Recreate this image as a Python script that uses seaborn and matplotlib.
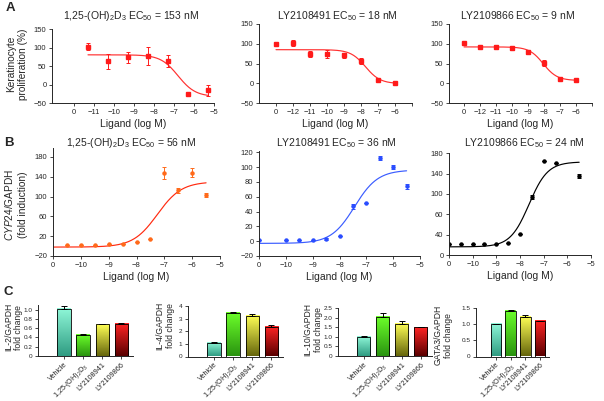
import numpy as np
import seaborn as sns
import matplotlib.pyplot as plt
from matplotlib.colors import LinearSegmentedColormap

sns.set_style("ticks")
plt.rcParams['font.family'] = ['Liberation Sans', 'DejaVu Sans']
plt.rcParams['mathtext.fontset'] = 'custom'
plt.rcParams['mathtext.rm'] = 'Liberation Sans'
plt.rcParams['mathtext.it'] = 'Liberation Sans:italic'
plt.rcParams['mathtext.default'] = 'regular'

# --- A: keratinocyte proliferation (%) vs ligand (log M) ---
# -13 / -12 stand in for the "0" (vehicle) tick
a1_x = [-11.3, -10.3, -9.3, -8.3, -7.3, -6.3, -5.3]
a1_y = [103, 64, 74, 78, 65, -25, -15]
a1_err = [10, 20, 14, 25, 16, 0, 15]

a2_x = [-13, -12, -11, -10, -9, -8, -7, -6]
a2_y = [100, 102, 74, 74, 71, 56, 8, 0]
a2_err = [0, 7, 8, 11, 6, 7, 0, 0]

a3_x = [-13, -12, -11, -10, -9, -8, -7, -6]
a3_y = [101, 92, 93, 89, 79, 52, 11, 8]
a3_err = [0, 3, 3, 4, 6, 8, 2, 0]

# fitted curves: [left plateau, right plateau, logEC50, hill, x start, x end]
a1_fit = [81, -32, -6.8, 1.0, -11.3, -5.3]
a2_fit = [85, -1, -7.74, 1.0, -13, -6]
a3_fit = [92, 7, -8.05, 1.0, -13, -6]

# --- B: CYP24/GAPDH fold induction ---
b1_x = [-10.5, -10, -9.5, -9, -8.5, -8, -7.5, -7, -6.5, -6, -5.5]
b1_y = [2, 3, 3, 4, 4, 8, 14, 148, 113, 148, 103]
b1_err = [0, 0, 0, 0, 0, 0, 0, 12, 5, 9, 4]

b2_x = [-11, -10, -9.5, -9, -8.5, -8, -7.5, -7, -6.5, -6, -5.5]
b2_y = [2, 2, 2, 2, 3, 7, 47, 52, 112, 100, 74]
b2_err = [0, 0, 0, 0, 1, 0, 3, 0, 3, 3, 3]

b3_x = [-11, -10.5, -10, -9.5, -9, -8.5, -8, -7.5, -7, -6.5, -5.5]
b3_y = [1, 1, 1, 1, 1, 3, 22, 94, 164, 161, 135]
b3_err = [0, 0, 0, 0, 0, 0, 0, 3, 0, 0, 4]

b1_fit = [-2, 130, -7.25, 1.0, -11, -5.5]
b2_fit = [-3, 96, -7.44, 1.0, -11, -5.5]
b3_fit = [-4, 163, -7.62, 1.1, -11, -5.5]

# --- C: cytokine / GAPDH fold change ---
groups = ['Vehicle', '1,25-(OH)$_2$D$_3$', 'LY2108941', 'LY2109866']
il2 = [1.02, 0.46, 0.68, 0.70]
il2_err = [0.05, 0.01, 0.01, 0.01]
il4 = [1.05, 3.45, 3.2, 2.3]
il4_err = [0.08, 0.1, 0.2, 0.2]
il10 = [1.02, 2.07, 1.7, 1.5]
il10_err = [0.05, 0.2, 0.12, 0.03]
gata3 = [1.0, 1.43, 1.23, 1.1]
gata3_err = [0.02, 0.02, 0.06, 0.01]

# gradient (top, bottom) per group
grad_colors = [("#8ff7d8", "#2f9c82"), ("#6cff2a", "#2a9410"),
               ("#ffff55", "#66660c"), ("#ff2424", "#5a0000")]

W, H = 604, 401
fig = plt.figure(figsize=(W / 100, H / 100), dpi=100)


def px_axes(x0, y0, x1, y1):
    return fig.add_axes([x0 / W, 1 - y1 / H, (x1 - x0) / W, (y1 - y0) / H])


def style(ax, size=5.5):
    sns.despine(ax=ax)
    for s in ["left", "bottom"]:
        ax.spines[s].set_linewidth(0.7)
    ax.tick_params(length=2.5, width=0.6, labelsize=size, pad=1.5)


def dose_panel(ax, xs, ys, errs, fit, pcolor, lcolor, marker, xlim, ticks, labels,
               ylim, yticks, ylabels):
    left, right, ec, hill, c0, c1 = fit
    cx = np.linspace(c0, c1, 200)
    cy = right + (left - right) / (1 + 10 ** ((cx - ec) * hill))
    sns.lineplot(x=cx, y=cy, ax=ax, color=lcolor, linewidth=0.85)
    ax.errorbar(xs, ys, yerr=errs, fmt=marker, color=pcolor, ms=2.2,
                elinewidth=0.7, capsize=1.5, capthick=0.7)
    ax.set_xlim(*xlim)
    ax.set_xticks(ticks)
    ax.set_xticklabels(labels)
    ax.set_ylim(*ylim)
    ax.set_yticks(yticks)
    ax.set_yticklabels(ylabels)
    ax.set_xlabel("Ligand (log M)", fontsize=7.5, labelpad=2.5)
    style(ax)


def minus(v):
    return "0" if v == 0 else "\u2212" + str(abs(v))


a_ylab = [minus(-50), "0", "50", "100", "150"]
# ---- row A ----
ax = px_axes(52, 29.3, 214, 103.3)
dose_panel(ax, a1_x, a1_y, a1_err, a1_fit, "#ff1a1a", "#ff3030", "s",
           (-13.1, -5), list(range(-12, -4)), ["0"] + [minus(v) for v in range(-11, -4)],
           (-50, 150), [-50, 0, 50, 100, 150], a_ylab)

ax = px_axes(259, 24, 412, 103)
dose_panel(ax, a2_x, a2_y, a2_err, a2_fit, "#ff1a1a", "#ff3030", "s",
           (-14, -5), list(range(-13, -4)),
           ["0"] + [minus(v) for v in range(-12, -5)] + [""],
           (-50, 150), [-50, 0, 50, 100, 150], a_ylab)

ax = px_axes(449, 24, 592, 103)
dose_panel(ax, a3_x, a3_y, a3_err, a3_fit, "#ff1a1a", "#ff3030", "s",
           (-13.94, -5), list(range(-13, -4)),
           ["0"] + [minus(v) for v in range(-12, -5)] + [""],
           (-50, 150), [-50, 0, 50, 100, 150], a_ylab)

# ---- row B ----
bt = list(range(-11, -4))
bl = ["0"] + [minus(v) for v in range(-10, -4)]
ax = px_axes(53, 148, 220, 256)
dose_panel(ax, b1_x, b1_y, b1_err, b1_fit, "#ff6a1a", "#ff2a10", "o",
           (-11, -5), bt, bl, (-20, 198), [-20, 20, 60, 100, 140, 180],
           [minus(-20), "20", "60", "100", "140", "180"])

ax = px_axes(259, 150.7, 420, 256)
dose_panel(ax, b2_x, b2_y, b2_err, b2_fit, "#2a4dff", "#3a5cff", "o",
           (-11, -5), bt, bl, (-20, 122), list(range(-20, 121, 20)),
           [minus(-20)] + [str(v) for v in range(0, 121, 20)])

ax = px_axes(449, 152.7, 591, 255)
dose_panel(ax, b3_x, b3_y, b3_err, b3_fit, "black", "black", "o",
           (-11, -5), bt, bl, (-20, 181), [-20, 20, 60, 100, 140, 180],
           ["0", "40", "60", "100", "140", "180"])

# ---- row C ----
c_boxes = [(38, 305, 133, 356), (188, 306, 283, 356.5), (338, 308.3, 432, 356), (476, 308.3, 549, 356.5)]
c_vals = [il2, il4, il10, gata3]
c_errs = [il2_err, il4_err, il10_err, gata3_err]
c_ylim = [1.1, 4, 2.5, 1.5]
c_yticks = [([0, 0.2, 0.4, 0.6, 0.8, 1.0], ["0", "0.2", "0.4", "0.6", "0.8", "1.0"]),
            ([0, 1, 2, 3, 4], ["0", "1", "2", "3", "4"]),
            ([0, 0.5, 1.0, 1.5, 2.0, 2.5], ["0", "0.5", "1.0", "1.5", "2.0", "2.5"]),
            ([0, 0.5, 1.0, 1.5], ["0", "0.5", "1.0", "1.5"])]
c_names = ["IL-2/GAPDH", "IL-4/GAPDH", "IL-10/GAPDH", "GATA3/GAPDH"]
c_label_pos = [(13.5, 327), (165, 326), (313, 330), (443.5, 335)]

for box, vals, errs, top, (yt, yl), name, (lx, ly) in zip(c_boxes, c_vals, c_errs, c_ylim,
                                                          c_yticks, c_names, c_label_pos):
    ax = px_axes(*box)
    sns.barplot(x=groups, y=vals, ax=ax, color="white", edgecolor="black",
                linewidth=0.6, width=0.7, errorbar=None, zorder=3)
    for patch, (ctop, cbot) in zip(ax.patches, grad_colors):
        patch.set_facecolor("none")
        x0, y0 = patch.get_x(), patch.get_y()
        w, h = patch.get_width(), patch.get_height()
        cmap = LinearSegmentedColormap.from_list("g", [cbot, ctop])
        grad = np.linspace(0, 1, 64).reshape(-1, 1)
        ax.imshow(grad, extent=[x0, x0 + w, y0, y0 + h], origin="lower",
                  cmap=cmap, aspect="auto", zorder=2)
    ax.errorbar(range(4), vals, yerr=[np.zeros(4), errs], fmt="none", ecolor="black",
                elinewidth=0.7, capsize=2, capthick=0.7, zorder=4)
    ax.set_xlim(-1.35, 3.6)
    ax.set_ylim(0, top)
    ax.set_yticks(yt)
    ax.set_yticklabels(yl)
    ax.set_xticks(range(4))
    ax.set_xticklabels(groups, rotation=45, ha="right", rotation_mode="anchor")
    ax.set_xlabel("")
    style(ax, size=4.6)
    ax.tick_params(axis="x", labelsize=5.2, pad=1)
    fig.text(lx / W, 1 - ly / H, name + "\nfold change", rotation=90, ha="center",
             va="center", fontsize=6.2, linespacing=1.2)

# ---- titles, y labels, panel letters ----
titles = [(131, 15.7, "1,25-(OH)$_2$D$_3$ EC$_{50}$ = 153 nM"),
          (337, 15.7, "LY2108491 EC$_{50}$ = 18 nM"),
          (517, 15.7, "LY2109866 EC$_{50}$ = 9 nM"),
          (131, 142.7, "1,25-(OH)$_2$D$_3$ EC$_{50}$ = 56 nM"),
          (336, 142.7, "LY2108491 EC$_{50}$ = 36 nM"),
          (524, 142.7, "LY2109866 EC$_{50}$ = 24 nM")]
for tx, ty, t in titles:
    fig.text(tx / W, 1 - ty / H, t, ha="center", va="center", fontsize=7.5)

fig.text(17.5 / W, 1 - 64 / H, "Keratinocyte\nproliferation (%)", rotation=90,
         ha="center", va="center", fontsize=7.3, linespacing=1.25)
fig.text(15.5 / W, 1 - 205 / H, "$\\mathit{CYP24}$/GAPDH\n(fold induction)", rotation=90,
         ha="center", va="center", fontsize=7.3, linespacing=1.25)

for lx, ly, letter in [(10, 8, "A"), (9, 143, "B"), (8, 292, "C")]:
    fig.text(lx / W, 1 - ly / H, letter, ha="center", va="center", fontsize=9.5,
             fontweight="bold")

fig.savefig("out.png", dpi=100)
